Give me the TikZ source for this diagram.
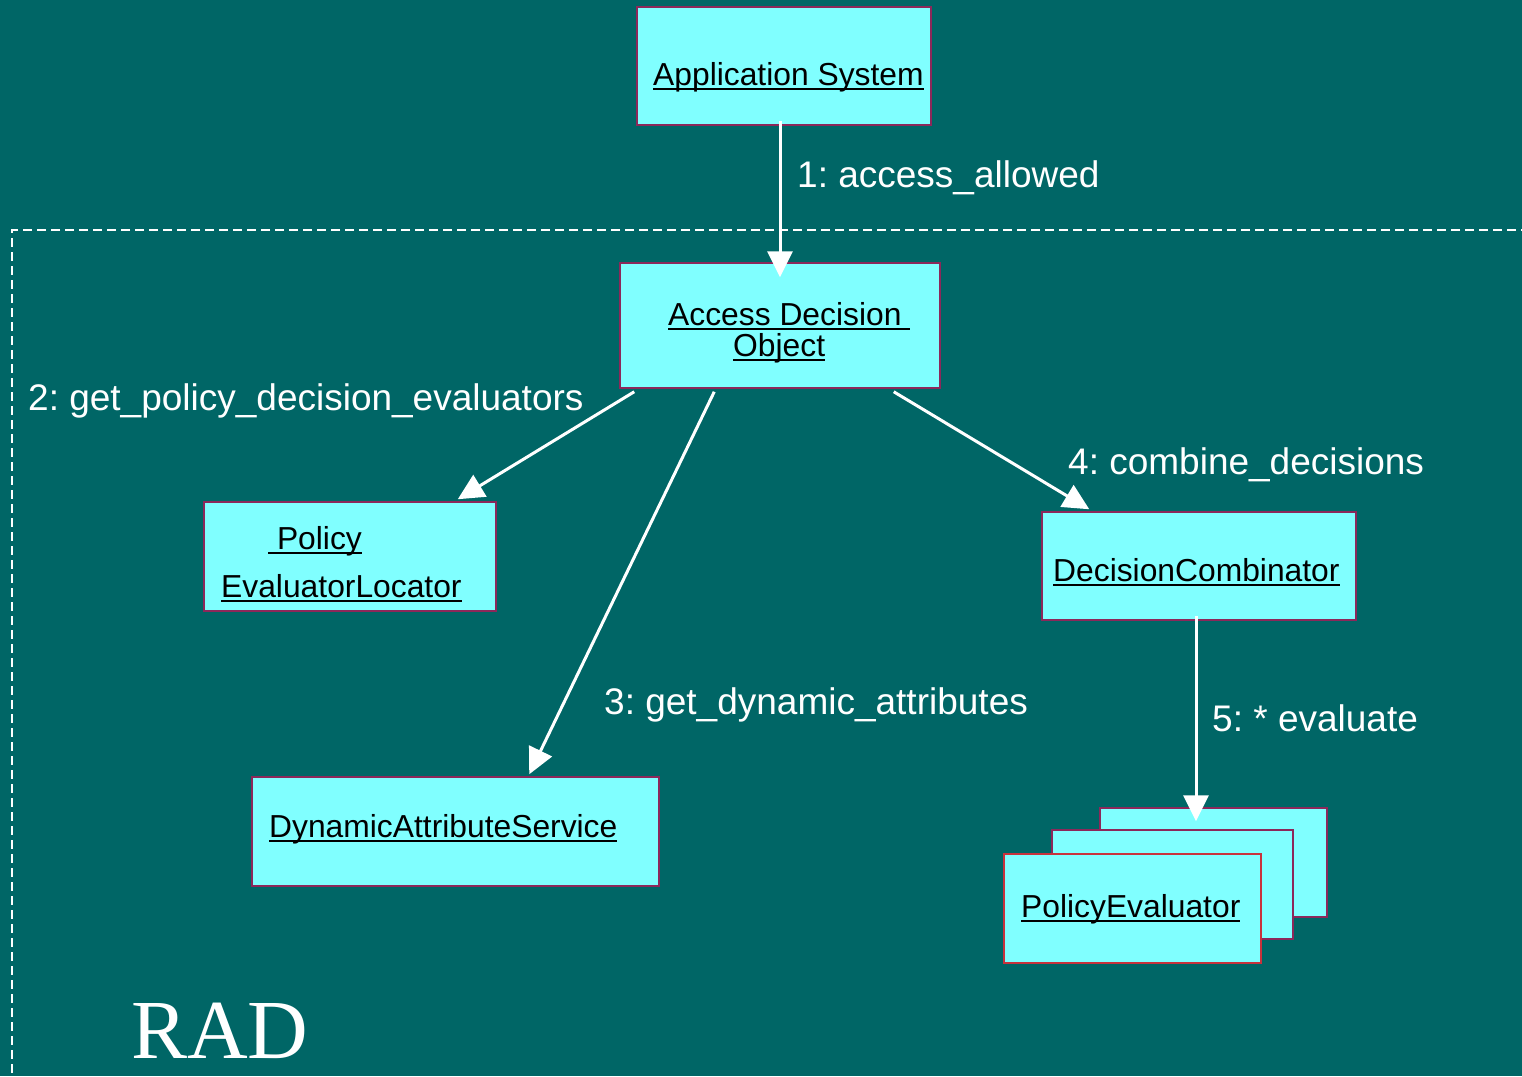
\documentclass[tikz,border=0pt]{standalone}
\usepackage{fontspec}
\setmainfont{Liberation Sans}
\newfontfamily\radfont{Liberation Serif}
\usetikzlibrary{arrows.meta}
\frenchspacing

\definecolor{bgteal}{RGB}{0,102,102}
\definecolor{boxcyan}{RGB}{128,255,255}
\definecolor{boxedge}{RGB}{140,40,90}
\definecolor{frontedge}{RGB}{200,50,60}

% underline drawn through the descenders, as in slide software
\newcommand\ulbox[1]{\setbox0\hbox{#1}\rlap{\rule[-0.17em]{\wd0}{0.075em}}\box0}

\tikzset{
  objbox/.style={draw=boxedge, fill=boxcyan, line width=1.5pt, inner sep=0pt},
  objtext/.style={anchor=base west, inner sep=0pt, text=black,
                  font=\fontsize{31.8}{38}\selectfont},
  msglabel/.style={anchor=base west, inner sep=0pt, text=white,
                   font=\fontsize{37}{44}\selectfont},
  msgarrow/.style={draw=white, line width=3pt,
                   -{Triangle[width=25pt,length=26pt]}},
}

\begin{document}
\begin{tikzpicture}[x=1pt, y=-1pt]
  % background
  \fill[bgteal] (0,0) rectangle (1522,1076);
  \useasboundingbox (0,0) rectangle (1522,1076);

  % system boundary
  \draw[white, line width=2.5pt, dash pattern=on 9pt off 5pt]
    (1530,230) -- (12,230) -- (12,1090);

  % objects
  \node[objbox, minimum width=294pt, minimum height=118pt] (app) at (784,66) {};
  \node[objtext] (appt) at (653,85) {\ulbox{Application System}};

  \node[objbox, minimum width=320pt, minimum height=125pt] (ado) at (780,325.5) {};
  \node[objtext] (adot1) at (668,325) {\ulbox{Access Decision\ }};
  \node[objtext] (adot2) at (733,356) {\ulbox{Object}};

  \node[objbox, minimum width=292pt, minimum height=109pt] (pel) at (350,556.5) {};
  \node[objtext] (pelt1) at (268,549) {\ulbox{\ Policy}};
  \node[objtext] (pelt2) at (221,597) {\ulbox{EvaluatorLocator}};

  \node[objbox, minimum width=314pt, minimum height=108pt] (dc) at (1199,566) {};
  \node[objtext] (dct) at (1053,581) {\ulbox{DecisionCombinator}};

  \node[objbox, minimum width=407pt, minimum height=109pt] (das) at (455.5,831.5) {};
  \node[objtext] (dast) at (269,837) {\ulbox{DynamicAttributeService}};

  % stacked evaluators
  \node[objbox, minimum width=227pt, minimum height=109pt] (pe3) at (1213.5,862.5) {};
  \node[objbox, minimum width=241pt, minimum height=109pt] (pe2) at (1172.5,884.5) {};
  \node[objbox, draw=frontedge, minimum width=257pt, minimum height=109pt] (pe1) at (1132.5,908.5) {};
  \node[objtext] (pet) at (1021,917) {\ulbox{PolicyEvaluator}};

  % messages
  \draw[msgarrow] ([xshift=-4pt,yshift=5pt]app.south) -- ([yshift=-15pt]ado.north);
  \draw[msgarrow] ([xshift=15pt,yshift=-3pt]ado.south west) -- ([xshift=-39pt,yshift=2pt]pel.north east);
  \draw[msgarrow] ([xshift=95pt,yshift=-3pt]ado.south west) -- ([xshift=278pt,yshift=2pt]das.north west);
  \draw[msgarrow] ([xshift=-47pt,yshift=-3pt]ado.south east) -- ([xshift=48pt,yshift=2pt]dc.north west);
  \draw[msgarrow] ([xshift=-3pt,yshift=5pt]dc.south) -- ([xshift=-17.5pt,yshift=-14pt]pe3.north);

  \node[msglabel] (m1) at (797,187) {1: access\_allowed};
  \node[msglabel] (m2) at (28,410) {2: get\_policy\_decision\_evaluators};
  \node[msglabel] (m4) at (1068,474) {4: combine\_decisions};
  \node[msglabel] (m3) at (604,714) {3: get\_dynamic\_attributes};
  \node[msglabel] (m5) at (1212,731) {5: * evaluate};

  \node[anchor=base west, inner sep=0pt, text=white, font=\radfont\fontsize{84}{90}\selectfont] (rad) at (131,1058) {RAD};
\end{tikzpicture}
\end{document}
